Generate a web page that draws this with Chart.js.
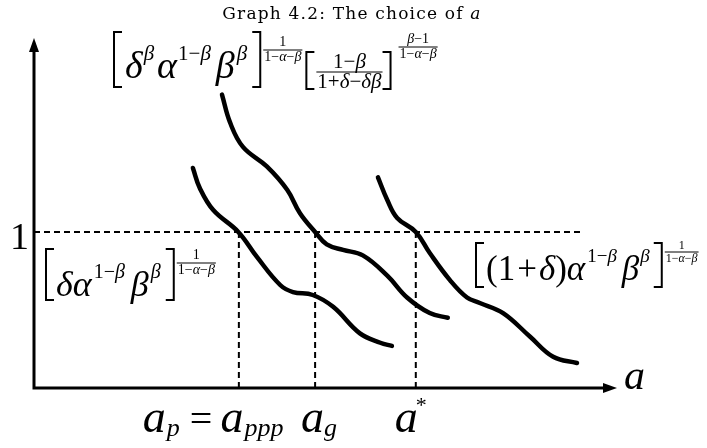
<!DOCTYPE html>
<html>
<head>
<meta charset="utf-8">
<script src="https://cdn.jsdelivr.net/npm/chart.js@4.4.0/dist/chart.umd.min.js"></script>
<style>
  html, body { margin: 0; background: #fff; }
  #wrap { width: 707px; height: 448px; }
</style>
</head>
<body>
<div id="wrap"><canvas id="graph"></canvas></div>
<script>
// curve points (x = a, y = level; 1 is the dashed line)
const lowX  = [2.73, 2.85, 3.08, 3.51, 3.83, 4.23, 4.45, 4.79, 5.14, 5.60, 5.95, 6.15];
const lowY  = [1.41, 1.28, 1.14, 1.00, 0.84, 0.66, 0.615, 0.596, 0.52, 0.35, 0.29, 0.27];
const midX  = [3.23, 3.37, 3.59, 4.00, 4.35, 4.57, 4.83, 5.03, 5.31, 5.65, 6.07, 6.41, 6.80, 7.11];
const midY  = [1.88, 1.70, 1.545, 1.42, 1.27, 1.12, 1.00, 0.92, 0.885, 0.85, 0.72, 0.58, 0.48, 0.45];
const highX = [5.91, 6.07, 6.24, 6.56, 6.80, 7.15, 7.44, 7.66, 8.06, 8.52, 8.92, 9.33];
const highY = [1.35, 1.205, 1.09, 1.00, 0.865, 0.69, 0.58, 0.545, 0.48, 0.33, 0.20, 0.16];

// where the curves cross 1
const aP = 3.52, aG = 4.83, aStar = 6.56;
const oneLevel = 1;
const dashEnd = 9.42;

const pts = (xs, ys) => xs.map((x, i) => ({ x: x, y: ys[i] }));

const curve = data => ({
  data: data,
  borderColor: '#000',
  borderWidth: 4.5,
  borderCapStyle: 'round',
  tension: 0.4,
  pointRadius: 0,
  showLine: true
});
const dashed = data => ({
  data: data,
  borderColor: '#000',
  borderWidth: 2,
  borderDash: [6, 4],
  pointRadius: 0,
  showLine: true
});

const SERIF = '"Liberation Serif", "Times New Roman", serif';

// draw a run of text pieces, returns end x
function run(ctx, x, y, parts) {
  for (const p of parts) {
    ctx.font = (p.i ? 'italic ' : '') + p.s + 'px ' + (p.f || SERIF);
    x += p.pre || 0;
    ctx.fillText(p.t, x, y + (p.dy || 0));
    x += ctx.measureText(p.t).width;
  }
  return x;
}
function width(ctx, parts) {
  let w = 0;
  for (const p of parts) {
    ctx.font = (p.i ? 'italic ' : '') + p.s + 'px ' + (p.f || SERIF);
    w += (p.pre || 0) + ctx.measureText(p.t).width;
  }
  return w;
}
function bracket(ctx, x, top, bot, left) {
  ctx.save();
  ctx.lineWidth = 2;
  ctx.beginPath();
  const w = 9;
  if (left) {
    ctx.moveTo(x + w, top); ctx.lineTo(x + 1, top); ctx.lineTo(x + 1, bot); ctx.lineTo(x + w, bot);
  } else {
    ctx.moveTo(x, top); ctx.lineTo(x + w - 1, top); ctx.lineTo(x + w - 1, bot); ctx.lineTo(x, bot);
  }
  ctx.stroke();
  ctx.restore();
  return x + w + 2;
}
function frac(ctx, x, lineY, num, den, gapUp, gapDn) {
  const wn = width(ctx, num), wd = width(ctx, den);
  const w = Math.max(wn, wd) + 2;
  run(ctx, x + (w - wn) / 2, lineY - gapUp, num);
  run(ctx, x + (w - wd) / 2, lineY + gapDn, den);
  ctx.save();
  ctx.lineWidth = 1;
  ctx.beginPath(); ctx.moveTo(x, lineY); ctx.lineTo(x + w, lineY); ctx.stroke();
  ctx.restore();
  return x + w;
}

const expoOf = s => [
  [{ t: '1', s: s }],
  [{ t: '1−', s: s }, { t: 'α', s: s, i: true }, { t: '−', s: s }, { t: 'β', s: s, i: true }]
];

const drawing = {
  id: 'drawing',
  afterDraw(chart) {
    const ctx = chart.ctx;
    const xs = chart.scales.x, ys = chart.scales.y;
    const x0 = xs.getPixelForValue(0), y0 = ys.getPixelForValue(0);
    const xEnd = xs.right, yTop = ys.top;
    ctx.save();
    ctx.fillStyle = '#000';
    ctx.strokeStyle = '#000';

    // axes with arrows
    ctx.lineWidth = 3;
    ctx.beginPath();
    ctx.moveTo(x0, y0 + 1.5); ctx.lineTo(x0, yTop + 10);
    ctx.moveTo(x0 - 1.5, y0); ctx.lineTo(xEnd - 10, y0);
    ctx.stroke();
    ctx.beginPath();
    ctx.moveTo(x0, yTop - 2); ctx.lineTo(x0 - 5, yTop + 12); ctx.lineTo(x0 + 5, yTop + 12); ctx.closePath();
    ctx.fill();
    ctx.beginPath();
    ctx.moveTo(xEnd + 1, y0); ctx.lineTo(xEnd - 13, y0 - 5); ctx.lineTo(xEnd - 13, y0 + 5); ctx.closePath();
    ctx.fill();

    ctx.textBaseline = 'alphabetic';
    ctx.textAlign = 'left';

    // title
    ctx.save();
    ctx.letterSpacing = '1.2px';
    const tf = '"DejaVu Serif", serif';
    const title = [{ t: 'Graph 4.2: The choice of ', s: 17, f: tf }, { t: 'a', s: 17, i: true, f: tf }];
    run(ctx, 352 - width(ctx, title) / 2, 19, title);
    ctx.restore();

    // axis labels
    run(ctx, x0 - 24, ys.getPixelForValue(oneLevel) + 17, [{ t: '1', s: 38 }]);
    run(ctx, xEnd + 8, y0 + 1, [{ t: 'a', s: 42, i: true }]);

    const bl = 432;
    const aStyle = { s: 46, i: true };
    run(ctx, xs.getPixelForValue(aP) - 96, bl, [
      { t: 'a', ...aStyle }, { t: 'p', s: 26, i: true, dy: 4, pre: 1 },
      { t: '=', s: 40, pre: 10 },
      { t: 'a', ...aStyle, pre: 8 }, { t: 'ppp', s: 26, i: true, dy: 4, pre: 1 }
    ]);
    run(ctx, xs.getPixelForValue(aG) - 14, bl, [{ t: 'a', ...aStyle }, { t: 'g', s: 26, i: true, dy: 4 }]);
    run(ctx, xs.getPixelForValue(aStar) - 21, bl, [{ t: 'a', ...aStyle }, { t: '*', s: 22, dy: -20, pre: -2 }]);

    // top label
    let big = 38, sup = 21;
    let [n1, d1] = expoOf(14);
    let x = bracket(ctx, 113, 32, 87, true);
    x = run(ctx, x, 78, [
      { t: 'δ', s: big, i: true, pre: 1 }, { t: 'β', s: sup, i: true, dy: -18, pre: 1 },
      { t: 'α', s: big, i: true, pre: 3 }, { t: '1−', s: sup, dy: -18, pre: 1 }, { t: 'β', s: sup, i: true, dy: -18 },
      { t: 'β', s: big, i: true, pre: 5 }, { t: 'β', s: sup, i: true, dy: -18, pre: 2 }
    ]);
    x = bracket(ctx, x + 5, 32, 87, false);
    x = frac(ctx, x, 50, n1, d1, 4, 11);
    x = bracket(ctx, x + 3, 52, 89, true);
    x = frac(ctx, x, 72, [{ t: '1−', s: sup }, { t: 'β', s: sup, i: true }],
      [{ t: '1+', s: sup }, { t: 'δ', s: sup, i: true }, { t: '−', s: sup }, { t: 'δβ', s: sup, i: true }], 4, 16);
    x = bracket(ctx, x, 52, 89, false);
    frac(ctx, x + 5, 47, [{ t: 'β', s: 14, i: true }, { t: '−1', s: 14 }], d1, 4, 11);

    // lower left label
    big = 36; sup = 20;
    x = bracket(ctx, 45, 249, 300, true);
    x = run(ctx, x, 296, [
      { t: 'δα', s: big, i: true }, { t: '1−', s: sup, dy: -18, pre: 2 }, { t: 'β', s: sup, i: true, dy: -18 },
      { t: 'β', s: big, i: true, pre: 6 }, { t: 'β', s: sup, i: true, dy: -18, pre: 2 }
    ]);
    x = bracket(ctx, x + 5, 249, 300, false);
    frac(ctx, x, 263, n1, d1, 4, 11);

    // right label
    big = 35; sup = 19;
    const [n2, d2] = expoOf(12);
    x = bracket(ctx, 475, 243, 287, true);
    x = run(ctx, x, 280, [
      { t: '(1', s: big }, { t: '+', s: big, pre: 2 }, { t: 'δ', s: big, i: true, pre: 2 }, { t: ')', s: big },
      { t: 'α', s: big, i: true }, { t: '1−', s: sup, dy: -18, pre: 2 }, { t: 'β', s: sup, i: true, dy: -18 },
      { t: 'β', s: big, i: true, pre: 5 }, { t: 'β', s: sup, i: true, dy: -18, pre: 1 }
    ]);
    x = bracket(ctx, x + 4, 243, 287, false);
    frac(ctx, x, 252, n2, d2, 3, 10);

    ctx.restore();
  }
};

new Chart(document.getElementById('graph'), {
  type: 'scatter',
  data: {
    datasets: [
      dashed([{ x: 0, y: oneLevel }, { x: dashEnd, y: oneLevel }]),
      dashed([{ x: aP, y: 0 }, { x: aP, y: oneLevel }]),
      dashed([{ x: aG, y: 0 }, { x: aG, y: oneLevel }]),
      dashed([{ x: aStar, y: 0 }, { x: aStar, y: oneLevel }]),
      curve(pts(lowX, lowY)),
      curve(pts(midX, midY)),
      curve(pts(highX, highY))
    ]
  },
  options: {
    responsive: true,
    maintainAspectRatio: false,
    animation: false,
    layout: { padding: { left: 34, right: 91, top: 40, bottom: 60 } },
    scales: {
      x: { type: 'linear', min: 0, max: 10, display: false },
      y: { type: 'linear', min: 0, max: 2.23, display: false }
    },
    plugins: {
      legend: { display: false },
      tooltip: { enabled: false }
    }
  },
  plugins: [drawing]
});
</script>
</body>
</html>
